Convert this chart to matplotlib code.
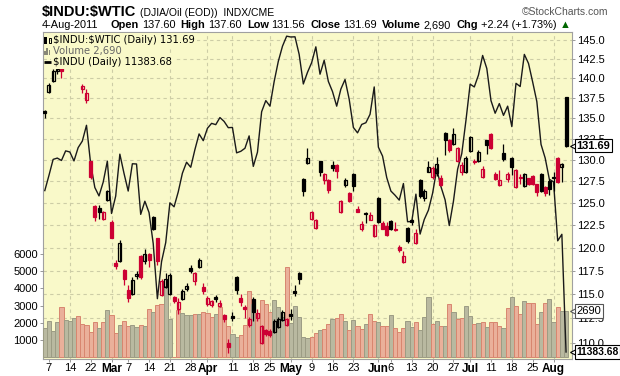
import numpy as np
import pandas as pd
import matplotlib
matplotlib.use("Agg")
import matplotlib.pyplot as plt
from matplotlib.ticker import FixedLocator, NullLocator, FixedFormatter
from matplotlib.patches import Rectangle
from matplotlib.transforms import blended_transform_factory

plt.rcParams["font.family"] = ["Liberation Sans", "DejaVu Sans"]

# trading days Feb 4 - Aug 4 2011 (exchange holidays removed)
holidays = ["2011-02-21", "2011-04-22", "2011-05-30", "2011-07-04"]
days = pd.bdate_range("2011-02-04", "2011-08-04")
days = days[~days.isin(pd.to_datetime(holidays))]

# $INDU:$WTIC daily candles
open_ = [135.9, 138.3, 139.7, 140.9, 141.3, 143.2, 144.0, 144.3, 144.5, 138.7,
         137.3, 129.8, 124.6, 124.4, 123.2, 125.3, 122.8, 118.3, 118.5, 117.6,
         115.4, 115.0, 116.9, 119.1, 118.5, 119.3, 123.4, 121.0, 114.9, 115.8,
         115.0, 114.7, 113.5, 114.5, 115.5, 117.8, 116.4, 117.9, 115.8, 114.0,
         113.9, 114.7, 113.8, 112.8, 110.0, 112.7, 116.8, 114.6, 113.7, 111.8,
         114.5, 112.5, 110.0, 111.3, 111.2, 111.1, 111.6, 112.3, 111.8, 112.9,
         115.3, 117.3, 127.7, 129.6, 123.2, 122.2, 129.8, 127.6, 127.6, 129.4,
         129.4, 124.0, 127.0, 126.1, 128.3, 124.3, 122.1, 123.8, 123.1, 121.3,
         125.6, 122.7, 122.4, 122.9, 122.0, 120.1, 118.4, 122.2, 123.0, 120.5,
         127.6, 125.5, 128.6, 128.0, 128.4, 127.9, 133.2, 132.4, 131.9, 129.8,
         128.5, 128.5, 131.0, 129.9, 129.8, 128.0, 132.3, 133.1, 128.3, 127.0,
         130.8, 127.7, 130.2, 126.8, 128.0, 126.9, 127.8, 128.1, 127.1, 128.3,
         126.8, 127.5, 128.0, 130.2, 129.2, 137.60]
high = [136.0, 139.4, 141.2, 141.5, 141.3, 144.0, 144.9, 145.0, 144.8, 139.3,
        138.6, 129.9, 124.7, 124.7, 124.1, 126.5, 123.0, 118.6, 120.8, 117.7,
        116.0, 116.8, 117.5, 119.2, 119.8, 119.4, 123.5, 121.1, 116.6, 117.2,
        117.3, 114.8, 114.6, 115.5, 116.2, 118.1, 117.4, 118.9, 116.2, 114.8,
        114.4, 114.9, 114.4, 113.0, 110.4, 113.2, 116.9, 115.0, 113.9, 112.6,
        114.7, 113.5, 111.8, 111.4, 111.4, 112.4, 112.6, 113.4, 112.5, 113.5,
        116.0, 117.4, 127.8, 131.4, 124.1, 123.2, 129.9, 128.4, 127.7, 129.8,
        129.5, 125.3, 127.9, 126.2, 128.4, 124.6, 122.9, 124.0, 124.0, 122.6,
        125.7, 122.9, 122.8, 123.0, 122.8, 120.3, 119.6, 122.3, 123.2, 122.0,
        127.7, 126.6, 129.8, 129.3, 130.3, 128.2, 133.3, 132.5, 133.8, 131.5,
        129.7, 130.4, 132.9, 130.1, 131.1, 129.3, 132.4, 133.2, 128.6, 128.8,
        131.9, 128.5, 130.3, 128.9, 128.3, 128.4, 127.9, 128.2, 127.2, 128.4,
        126.9, 127.7, 128.6, 130.3, 129.6, 137.60]
low = [135.0, 138.2, 139.6, 140.6, 140.0, 142.8, 143.5, 144.0, 143.6, 138.1,
       136.9, 127.7, 122.9, 123.2, 123.0, 125.2, 121.0, 117.7, 118.4, 116.0,
       114.2, 114.9, 116.6, 116.6, 118.2, 117.9, 121.9, 118.1, 114.8, 115.7,
       114.9, 114.1, 113.0, 114.4, 115.3, 117.3, 116.0, 117.8, 115.0, 113.8,
       113.7, 114.2, 113.7, 112.1, 109.0, 112.2, 115.0, 113.8, 112.5, 111.6,
       112.2, 112.2, 109.9, 110.7, 110.6, 111.0, 111.5, 112.2, 111.7, 112.3,
       114.8, 116.1, 125.8, 129.5, 123.0, 122.1, 128.1, 127.2, 126.1, 128.7,
       127.9, 123.8, 126.8, 125.1, 126.4, 123.9, 121.8, 122.7, 123.0, 121.2,
       122.7, 122.0, 121.3, 121.9, 121.8, 119.5, 118.3, 120.5, 122.5, 120.4,
       125.6, 125.2, 128.5, 127.7, 128.1, 126.9, 130.6, 130.9, 131.8, 129.7,
       128.2, 128.4, 130.9, 129.5, 129.7, 127.9, 130.7, 131.3, 127.6, 126.9,
       129.9, 127.4, 128.2, 126.7, 127.2, 126.8, 127.0, 127.0, 125.8, 126.2,
       125.8, 125.9, 126.3, 127.3, 127.4, 131.56]
close = [135.7, 139.2, 140.9, 141.2, 141.0, 143.6, 144.5, 144.7, 144.1, 139.0,
         138.1, 128.0, 123.4, 124.0, 123.9, 126.4, 121.1, 118.0, 120.5, 116.6,
         114.6, 116.5, 117.1, 116.8, 119.3, 118.7, 122.1, 118.5, 116.4, 116.6,
         117.0, 114.3, 114.2, 115.3, 115.9, 117.5, 117.3, 118.6, 115.3, 114.6,
         114.3, 114.5, 114.1, 112.4, 109.6, 112.5, 115.4, 114.2, 113.5, 112.4,
         113.2, 113.1, 111.7, 110.9, 110.8, 112.2, 112.4, 113.2, 112.4, 112.7,
         115.1, 116.6, 126.4, 130.2, 123.9, 123.0, 128.5, 128.3, 126.5, 129.0,
         128.7, 125.2, 127.6, 125.2, 126.9, 124.0, 122.6, 123.7, 123.6, 122.5,
         122.8, 122.1, 121.4, 122.1, 121.9, 119.7, 119.1, 120.7, 122.8, 121.6,
         125.8, 126.3, 129.1, 129.0, 129.5, 127.0, 132.4, 131.1, 133.1, 131.4,
         129.4, 130.2, 132.7, 129.7, 130.9, 128.9, 131.7, 131.4, 127.7, 127.6,
         130.1, 128.3, 129.2, 128.8, 127.8, 128.3, 127.2, 127.1, 126.2, 126.4,
         126.1, 126.6, 127.8, 127.4, 129.45, 131.69]
prev_close = 135.0  # close of the session before the first bar

volume = [1720, 2100, 1520, 2030, 2900, 2160, 2100, 2280, 2400, 1910,
          1850, 1450, 2050, 1700, 2050, 2740, 2450, 1390, 1870, 2100,
          1810, 1870, 1760, 1870, 1810, 2800, 2650, 3030, 3090, 4150,
          2220, 0, 2740, 2550, 2450, 2450, 2500, 2520, 2610, 2550,
          2320, 2510, 2900, 2260, 1810, 1350, 1190, 1290, 1870, 3870,
          3090, 2590, 3330, 3090, 2650, 3330, 2940, 2320, 5230, 2010,
          2980, 2320, 1190, 1100, 1190, 1390, 1580, 1640, 1930, 2200,
          2260, 2510, 2100, 1580, 2160, 1810, 1640, 1930, 2510, 2100,
          2050, 1810, 1810, 2450, 1720, 1450, 1700, 2100, 1760, 2030,
          1580, 2360, 3480, 1910, 2100, 1810, 1810, 3090, 2610, 2200,
          2280, 2980, 2400, 1930, 1970, 2030, 1740, 2030, 2030, 1810,
          1700, 2860, 3480, 2980, 2510, 3270, 3170, 3170, 1930, 2610,
          3170, 3360, 2030, 2900, 2700, 2690]

# $INDU daily close (overlay)
indu = [12092, 12161, 12234, 12240, 12229, 12273, 12268, 12227, 12288, 12318,
        12391, 12213, 12106, 12068, 12130, 12226, 11989, 12067, 12258, 12170,
        12090, 12214, 12213, 11985, 12044, 11993, 11855, 11613, 11775, 11859,
        12037, 12019, 12086, 12171, 12221, 12198, 12279, 12351, 12320, 12377,
        12400, 12394, 12427, 12409, 12380, 12381, 12264, 12271, 12285, 12342,
        12202, 12267, 12454, 12506, 12480, 12595, 12691, 12763, 12811, 12807,
        12808, 12724, 12584, 12639, 12685, 12760, 12630, 12696, 12596, 12548,
        12480, 12560, 12605, 12512, 12381, 12356, 12395, 12403, 12442, 12570,
        12290, 12249, 12151, 12090, 12071, 12049, 12124, 11952, 11953, 12076,
        11897, 11962, 12004, 12080, 12190, 12110, 12050, 11935, 12044, 12189,
        12261, 12414, 12583, 12570, 12626, 12719, 12657, 12506, 12447, 12492,
        12437, 12480, 12385, 12587, 12572, 12724, 12681, 12593, 12501, 12303,
        12240, 12143, 12132, 11867, 11896, 11383.68]

tick_dates = ["2011-02-07", "2011-02-14", "2011-02-22", "2011-03-01", "2011-03-07",
              "2011-03-14", "2011-03-21", "2011-03-28", "2011-04-01", "2011-04-11",
              "2011-04-18", "2011-04-25", "2011-05-02", "2011-05-09", "2011-05-16",
              "2011-05-23", "2011-06-01", "2011-06-06", "2011-06-13", "2011-06-20",
              "2011-06-27", "2011-07-01", "2011-07-11", "2011-07-18", "2011-07-25",
              "2011-08-01"]
tick_text = ["7", "14", "22", "Mar", "7", "14", "21", "28", "Apr", "11", "18", "25",
             "May", "9", "16", "23", "Jun", "6", "13", "20", "27", "Jul", "11", "18",
             "25", "Aug"]
grid_dates = ["2011-02-14", "2011-03-01", "2011-03-21", "2011-04-01", "2011-04-11",
              "2011-04-25", "2011-05-02", "2011-05-09", "2011-05-23", "2011-06-01",
              "2011-06-13", "2011-06-20", "2011-07-01", "2011-07-18", "2011-08-01"]
price_ticks = [110.0, 112.5, 115.0, 117.5, 120.0, 122.5, 125.0, 127.5, 130.0,
               132.5, 135.0, 137.5, 140.0, 142.5, 145.0]
vol_ticks = [1000, 2000, 3000, 4000, 5000, 6000]

BG = "#f9f9c9"
GRID = "#cdcda6"
RED = "#cc0033"

x = np.arange(len(days))
pos = {d.strftime("%Y-%m-%d"): i for i, d in enumerate(days)}
o = np.array(open_); h = np.array(high); l = np.array(low); c = np.array(close)
prev = np.concatenate([[prev_close], c[:-1]])
up = c >= prev

fig = plt.figure(figsize=(6.2, 3.76), dpi=100)
rect = [43 / 620, 17 / 376, 529 / 620, 327 / 376]

ax_p = fig.add_axes(rect, label="price")
ax_v = fig.add_axes(rect, sharex=ax_p, label="vol")
ax_d = fig.add_axes(rect, sharex=ax_p, label="indu")
ax_c = fig.add_axes(rect, sharex=ax_p, sharey=ax_p, label="candles")

# base axes: background, grid, price scale
ax_p.set_facecolor(BG)
ax_p.set_yscale("log")
ax_p.set_ylim(108.41, 146.05)
ax_p.set_xlim(-0.43, 126.43)
ax_p.yaxis.tick_right()
ax_p.yaxis.set_major_locator(FixedLocator(price_ticks))
ax_p.yaxis.set_major_formatter(FixedFormatter(["%.1f" % t for t in price_ticks]))
ax_p.yaxis.set_minor_locator(NullLocator())
ax_p.grid(axis="y", color=GRID, ls=(0, (3, 3)), lw=0.8)
for d in grid_dates:
    ax_p.axvline(pos[d], color=GRID, ls=(0, (3, 3)), lw=0.8)
ax_p.set_xticks([pos[d] for d in tick_dates])
ax_p.set_xticklabels(tick_text)
for t in ax_p.get_xticklabels():
    if t.get_text().isalpha():
        t.set_fontweight("bold")
        t.set_fontsize(8.5)
    else:
        t.set_fontsize(8)
ax_p.tick_params(axis="y", labelsize=8, length=2, width=0.6, color="#888888", pad=1.5)
ax_p.tick_params(axis="x", length=2, width=0.6, color="#888888", pad=1)
for s in ax_p.spines.values():
    s.set_color("#a0a0a0")
    s.set_linewidth(0.8)

# volume
ax_v.patch.set_visible(False)
ax_v.set_ylim(-105, 18907)
ax_v.bar(x, volume, width=1.0, bottom=0,
         color=np.where(up, "#b9b9a0", "#eab09a"),
         edgecolor=np.where(up, "#9c9c84", "#d8866f"), linewidth=0.7)
ax_v.yaxis.set_major_locator(FixedLocator(vol_ticks))
ax_v.tick_params(axis="y", labelsize=8, length=2, width=0.6, color="#888888", pad=1.5)
ax_v.tick_params(axis="x", bottom=False, labelbottom=False)
for s in ax_v.spines.values():
    s.set_visible(False)

# $INDU overlay line
ax_d.patch.set_visible(False)
ax_d.set_yscale("log")
ax_d.set_ylim(11353.9, 12831.0)
ax_d.plot(x, indu, color="#1a1a1a", lw=1.0)
ax_d.axis("off")

# candles
ax_c.patch.set_visible(False)
ax_c.axis("off")
col = np.where(up, "black", RED)
ax_c.vlines(x, l, h, colors=col, lw=0.9)
bot = np.minimum(o, c)
hgt = np.maximum(np.abs(c - o), 0.12)
hollow = c >= o
ax_c.bar(x[hollow], hgt[hollow], bottom=bot[hollow], width=0.72,
         facecolor="none", edgecolor=col[hollow], linewidth=0.9)
ax_c.bar(x[~hollow], hgt[~hollow], bottom=bot[~hollow], width=0.72,
         facecolor=col[~hollow], edgecolor=col[~hollow], linewidth=0.9)


def fx(px):
    return (px - 43) / 529


def fy(py):
    return (359 - py) / 327


# legend
leg = [("\\$INDU:\\$WTIC (Daily) 131.69", "black", 40),
       ("Volume 2,690", "#666666", 51),
       ("\\$INDU (Daily) 11383.68", "black", 62)]
for s, cl, py in leg:
    ax_c.text(fx(53), fy(py), s, transform=ax_c.transAxes, fontsize=7.2, color=cl,
              family="DejaVu Sans", va="center", ha="left", zorder=10,
              bbox=dict(facecolor=BG, edgecolor="none", pad=1.6))
ax_c.add_patch(Rectangle((fx(44), fy(44)), fx(47) - fx(44), fy(37) - fy(44),
                         transform=ax_c.transAxes, facecolor="black", zorder=11))
ax_c.add_patch(Rectangle((fx(48.5), fy(43)), fx(51) - fx(48.5), fy(38) - fy(43),
                         transform=ax_c.transAxes, facecolor="none", edgecolor="black",
                         lw=0.7, zorder=11))
for k, hh in enumerate([4, 7, 5]):
    ax_c.add_patch(Rectangle((fx(44 + 2.3 * k), fy(55)), fx(45.8) - fx(44), fy(55 - hh) - fy(55),
                             transform=ax_c.transAxes, facecolor="#888877", zorder=11))
ax_c.plot([fx(44), fx(51)], [fy(62), fy(62)], transform=ax_c.transAxes, color="black",
          lw=2, zorder=11, solid_capstyle="butt")


# right-side value boxes with a small pointer
def value_box(ax, val, text, bold, edge, size=8):
    tr = blended_transform_factory(ax.transAxes, ax.transData)
    ax.plot([1 + 1.5 / 529], [val], transform=tr, marker="<", ms=6, mfc="white",
            mec=edge, mew=0.8, clip_on=False, zorder=20)
    ax.text(1 + 4.5 / 529, val, text, transform=tr, fontsize=size,
            fontweight="bold" if bold else "normal", va="center", ha="left",
            clip_on=False, zorder=21,
            bbox=dict(boxstyle="square,pad=0.15", facecolor="white", edgecolor=edge, lw=0.8))


value_box(ax_p, close[-1], "%.2f" % close[-1], True, "black")
value_box(ax_v, volume[-1], "%d" % volume[-1], False, "#555555")
value_box(ax_d, indu[-1], "%.2f" % indu[-1], True, "black", size=7.4)

# header
fig.canvas.draw()
r = fig.canvas.get_renderer()
title = fig.text(42 / 620, 1 - 12 / 376, "\\$INDU:\\$WTIC", fontsize=10.5, fontweight="bold",
                 va="center")
tx = 42 + title.get_window_extent(r).width + 4
fig.text(tx / 620, 1 - 13 / 376, "(DJIA/Oil (EOD))  INDX/CME", fontsize=7.5, va="center")
fig.text(608 / 620, 1 - 12 / 376, "\u00a9StockCharts.com", fontsize=7.5, color="#555555",
         va="center", ha="right")

parts = [("4-Aug-2011", False, 12), ("Open", True, 3), ("137.60", False, 5),
         ("High", True, 3), ("137.60", False, 5), ("Low", True, 3), ("131.56", False, 5),
         ("Close", True, 3), ("131.69", False, 5), ("Volume", True, 3), ("2,690", False, 5),
         ("Chg", True, 3), ("+2.24 (+1.73%)", False, 3), ("\u25b2", False, 0)]
px = 42
for s, b, gap in parts:
    t = fig.text(px / 620, 1 - 25 / 376, s, fontsize=7.9, va="center",
                 fontweight="bold" if b else "normal",
                 color="#006600" if s == "\u25b2" else "black")
    px += t.get_window_extent(r).width + gap

fig.savefig("out.png", dpi=100, facecolor="white")
